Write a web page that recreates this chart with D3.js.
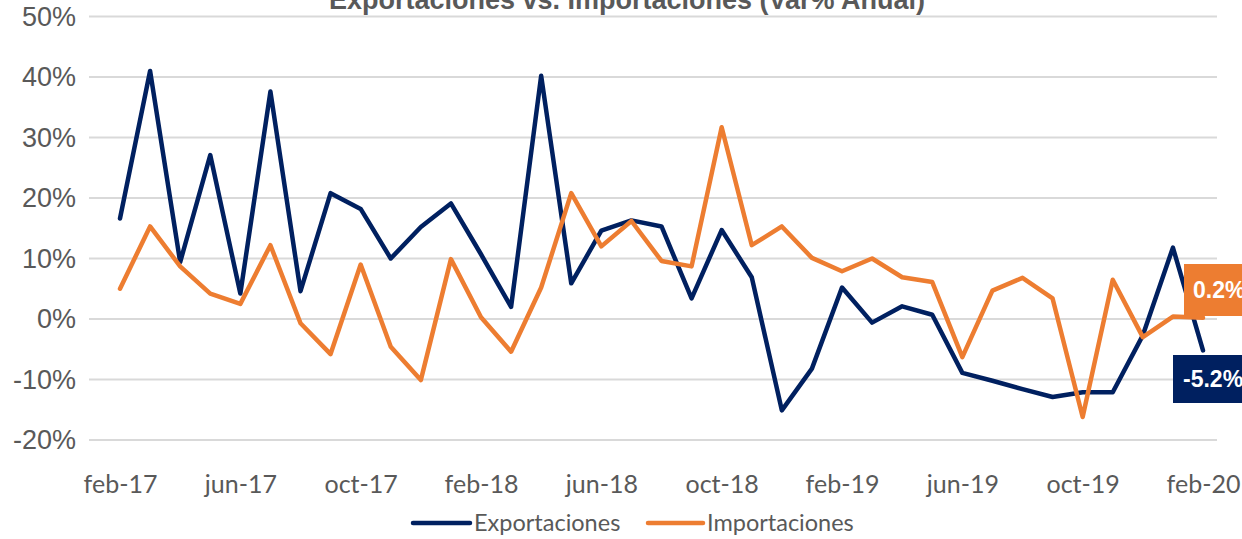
<!DOCTYPE html>
<html>
<head>
<meta charset="utf-8">
<script src="https://cdn.jsdelivr.net/npm/d3@7"></script>
<style>
  html, body { margin: 0; padding: 0; background: #fff; }
  svg { display: block; }
</style>
</head>
<body>
<svg id="chart" width="1242" height="539"></svg>
<script>
// ==================== DATA ====================
const months = [
  'feb-17', 'mar-17', 'abr-17', 'may-17', 'jun-17', 'jul-17', 'ago-17', 'sep-17', 'oct-17', 'nov-17', 'dic-17', 'ene-18',
  'feb-18', 'mar-18', 'abr-18', 'may-18', 'jun-18', 'jul-18', 'ago-18', 'sep-18', 'oct-18', 'nov-18', 'dic-18', 'ene-19',
  'feb-19', 'mar-19', 'abr-19', 'may-19', 'jun-19', 'jul-19', 'ago-19', 'sep-19', 'oct-19', 'nov-19', 'dic-19', 'ene-20',
  'feb-20'
];
const tickLabels = ['feb-17', 'jun-17', 'oct-17', 'feb-18', 'jun-18', 'oct-18', 'feb-19', 'jun-19', 'oct-19', 'feb-20'];
const yTicks = [-20, -10, 0, 10, 20, 30, 40, 50];

const exportaciones = [
  16.6, 41.0, 9.4, 27.1, 4.2, 37.6, 4.6, 20.8, 18.2, 10.0, 15.2, 19.1,
  10.7, 2.0, 40.2, 5.9, 14.6, 16.3, 15.3, 3.4, 14.7, 6.9, -15.1, -8.2,
  5.2, -0.6, 2.1, 0.7, -8.9, -10.2, -11.6, -12.9, -12.1, -12.1, -2.7, 11.8,
  -5.2
];
const importaciones = [
  5.0, 15.3, 8.7, 4.2, 2.5, 12.2, -0.7, -5.8, 9.0, -4.6, -10.1, 9.9,
  0.3, -5.4, 5.2, 20.8, 12.0, 16.2, 9.6, 8.7, 31.7, 12.2, 15.3, 10.1,
  7.9, 10.0, 6.9, 6.1, -6.3, 4.7, 6.8, 3.4, -16.2, 6.5, -3.0, 0.4,
  0.2
];

const seriesNames = ['Exportaciones', 'Importaciones'];
const seriesColors = ['#002060', '#ED7D31'];

// ==================== CHART ====================
const svg = d3.select('#chart');
const textGray = '#595959';

const x = d3.scalePoint().domain(months).range([120, 1203]);
const y = d3.scaleLinear().domain([-20, 50]).range([440, 16.5]);
const gridLeft = 89;
const gridRight = 1217;

svg.append('rect').attr('width', 1242).attr('height', 539).attr('fill', '#fff');

// title (cut off at the top like the original)
svg.append('text')
  .attr('x', 627)
  .attr('y', 9)
  .attr('text-anchor', 'middle')
  .attr('font-family', '"Liberation Sans", Arial, sans-serif')
  .attr('font-weight', 'bold')
  .attr('font-size', '27px')
  .attr('fill', textGray)
  .text('Exportaciones vs. Importaciones (Var% Anual)');

// gridlines
svg.append('g')
  .selectAll('line')
  .data(yTicks)
  .join('line')
  .attr('x1', gridLeft)
  .attr('x2', gridRight)
  .attr('y1', (d) => y(d))
  .attr('y2', (d) => y(d))
  .attr('stroke', '#d9d9d9')
  .attr('stroke-width', 2);

// y axis labels
const yAxis = svg.append('g')
  .attr('transform', 'translate(76,0)')
  .call(d3.axisLeft(y).tickValues(yTicks).tickSize(0).tickPadding(0).tickFormat((d) => d + '%'));
yAxis.select('.domain').remove();
yAxis.selectAll('text')
  .attr('font-family', '"Liberation Sans", Arial, sans-serif')
  .attr('font-size', '27px')
  .attr('fill', textGray);

// x axis labels
const xAxis = svg.append('g')
  .attr('transform', 'translate(0,468)')
  .call(d3.axisBottom(x).tickValues(tickLabels).tickSize(0).tickPadding(0));
xAxis.select('.domain').remove();
xAxis.selectAll('text')
  .attr('dy', null)
  .attr('y', 25)
  .attr('font-family', 'Lato, "Open Sans", sans-serif')
  .attr('font-size', '25px')
  .attr('fill', textGray);

// lines
const line = d3.line()
  .x((d, i) => x(months[i]))
  .y((d) => y(d));

[exportaciones, importaciones].forEach((values, si) => {
  svg.append('path')
    .datum(values)
    .attr('d', line)
    .attr('fill', 'none')
    .attr('stroke', seriesColors[si])
    .attr('stroke-width', 4.5)
    .attr('stroke-linejoin', 'round')
    .attr('stroke-linecap', 'round');
});

// end labels
const endLabels = [
  { value: importaciones[importaciones.length - 1], color: seriesColors[1], x: 1184, top: 264, h: 52, tx: 1193 },
  { value: exportaciones[exportaciones.length - 1], color: seriesColors[0], x: 1173, top: 355, h: 48, tx: 1183 },
];
endLabels.forEach((l) => {
  svg.append('rect')
    .attr('x', l.x)
    .attr('y', l.top)
    .attr('width', 80)
    .attr('height', l.h)
    .attr('fill', l.color);
  svg.append('text')
    .attr('x', l.tx)
    .attr('y', l.top + l.h / 2)
    .attr('dominant-baseline', 'central')
    .attr('font-family', '"Liberation Sans", Arial, sans-serif')
    .attr('font-weight', 'bold')
    .attr('font-size', '23px')
    .attr('fill', '#fff')
    .text(l.value.toFixed(1) + '%');
});

// legend
const legendItems = [
  { name: seriesNames[0], color: seriesColors[0], x1: 413, x2: 470, tx: 474 },
  { name: seriesNames[1], color: seriesColors[1], x1: 648, x2: 703, tx: 707 },
];
legendItems.forEach((it) => {
  svg.append('line')
    .attr('x1', it.x1).attr('x2', it.x2)
    .attr('y1', 523).attr('y2', 523)
    .attr('stroke', it.color)
    .attr('stroke-width', 4.5)
    .attr('stroke-linecap', 'round');
  svg.append('text')
    .attr('x', it.tx)
    .attr('y', 531)
    .attr('font-family', 'Lato, "Open Sans", sans-serif')
    .attr('font-size', '23.5px')
    .attr('fill', textGray)
    .text(it.name);
});
</script>
</body>
</html>
